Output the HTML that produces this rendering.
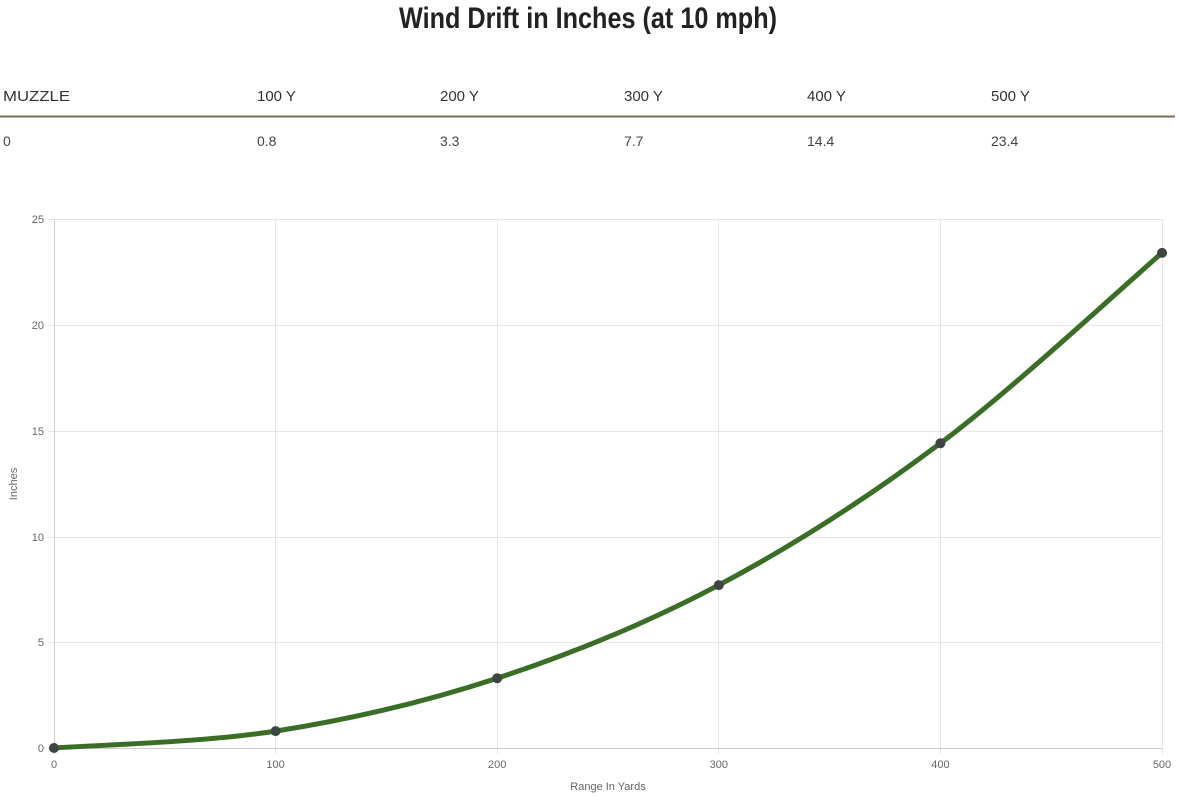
<!DOCTYPE html>
<html><head><meta charset="utf-8"><style>
html,body{margin:0;padding:0;background:#fff;width:1179px;height:796px;overflow:hidden}
</style></head><body>
<svg width="1179" height="796" viewBox="0 0 1179 796" xmlns="http://www.w3.org/2000/svg">
<text x="588" y="28" text-anchor="middle" font-family="'Liberation Sans Narrow','Liberation Sans',sans-serif" font-weight="bold" font-size="30" fill="#222" textLength="378" lengthAdjust="spacingAndGlyphs">Wind Drift in Inches (at 10 mph)</text>
<g font-family="'Liberation Sans',sans-serif" font-size="15" fill="#333">
<text x="3" y="101" textLength="67" lengthAdjust="spacingAndGlyphs">MUZZLE</text>
<text x="257" y="101">100 Y</text>
<text x="440" y="101">200 Y</text>
<text x="624" y="101">300 Y</text>
<text x="807" y="101">400 Y</text>
<text x="991" y="101">500 Y</text>
</g>
<rect x="0" y="115.5" width="1175" height="2" fill="#7d6d56"/>
<g font-family="'Liberation Sans',sans-serif" font-size="14" fill="#444">
<text x="3" y="146">0</text>
<text x="257" y="146">0.8</text>
<text x="440" y="146">3.3</text>
<text x="624" y="146">7.7</text>
<text x="807" y="146">14.4</text>
<text x="991" y="146">23.4</text>
</g>
<g stroke="#e6e6e6" stroke-width="1">
<line x1="48" y1="219.5" x2="1162" y2="219.5"/>
<line x1="48" y1="325.5" x2="1162" y2="325.5"/>
<line x1="48" y1="431.5" x2="1162" y2="431.5"/>
<line x1="48" y1="537.5" x2="1162" y2="537.5"/>
<line x1="48" y1="642.5" x2="1162" y2="642.5"/>
<line x1="275.5" y1="219" x2="275.5" y2="754"/>
<line x1="497.5" y1="219" x2="497.5" y2="754"/>
<line x1="718.5" y1="219" x2="718.5" y2="754"/>
<line x1="940.5" y1="219" x2="940.5" y2="754"/>
<line x1="1162.5" y1="219" x2="1162.5" y2="754"/>
</g>
<line x1="54.5" y1="219" x2="54.5" y2="754" stroke="#cfcfcf"/>
<line x1="48" y1="748.5" x2="1162" y2="748.5" stroke="#cfcfcf"/>
<g font-family="'Liberation Sans',sans-serif" font-size="11" fill="#666">
<text x="44" y="223" text-anchor="end">25</text>
<text x="44" y="329" text-anchor="end">20</text>
<text x="44" y="435" text-anchor="end">15</text>
<text x="44" y="541" text-anchor="end">10</text>
<text x="44" y="646" text-anchor="end">5</text>
<text x="44" y="752" text-anchor="end">0</text>
<text x="54" y="768" text-anchor="middle">0</text>
<text x="275.6" y="768" text-anchor="middle">100</text>
<text x="497.2" y="768" text-anchor="middle">200</text>
<text x="718.8" y="768" text-anchor="middle">300</text>
<text x="940.4" y="768" text-anchor="middle">400</text>
<text x="1162" y="768" text-anchor="middle">500</text>
<text x="608" y="790" text-anchor="middle">Range In Yards</text>
<text transform="translate(17,484) rotate(-90)" text-anchor="middle">Inches</text>
</g>
<path d="M54,748 C90.9,745.2 201.7,742.7 275.6,731.1 C349.5,719.5 423.3,702.5 497.2,678.2 C571.1,653.9 644.9,624.3 718.8,585.1 C792.7,545.9 866.5,498.7 940.4,443.3 C1014.3,387.9 1125.1,284.6 1162,252.9" fill="none" stroke="#3a6e26" stroke-width="5" stroke-linecap="round"/>
<g fill="#3d4540">
<circle cx="54" cy="748" r="5"/>
<circle cx="275.6" cy="731.1" r="5"/>
<circle cx="497.2" cy="678.2" r="5"/>
<circle cx="718.8" cy="585.1" r="5"/>
<circle cx="940.4" cy="443.3" r="5"/>
<circle cx="1162" cy="252.9" r="5"/>
</g>
</svg>
</body></html>
